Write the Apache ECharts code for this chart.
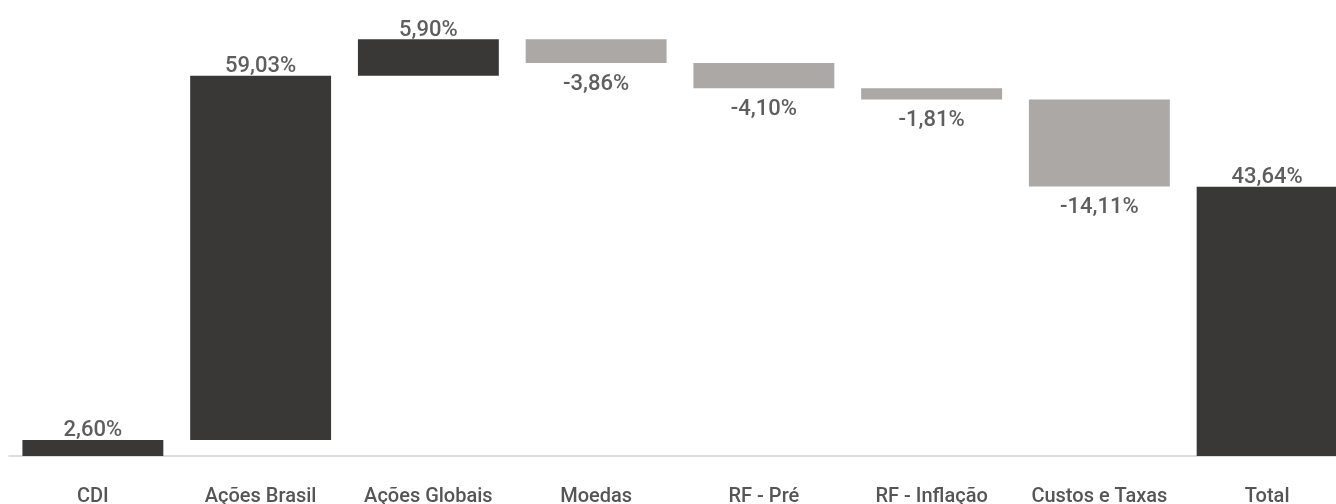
<!DOCTYPE html>
<html>
<head>
<meta charset="utf-8">
<script src="https://cdn.jsdelivr.net/npm/echarts@6/dist/echarts.min.js"></script>
<style>
html,body{margin:0;padding:0;background:#fff;}
#c{width:1336px;height:504px;}
</style>
</head>
<body>
<div id="c"></div>
<script>
const categories = ['CDI', 'Ações Brasil', 'Ações Globais', 'Moedas', 'RF - Pré', 'RF - Inflação', 'Custos e Taxas', 'Total'];
const values = [2.60, 59.03, 5.90, -3.86, -4.10, -1.81, -14.11, 43.64];
const isTotal = [false, false, false, false, false, false, false, true];

const FONT = 'Roboto, "Noto Sans", sans-serif';
const DARK = '#3a3836';
const LIGHT = '#aba8a6';

const baseData = [];
const barData = [];
let running = 0;
values.forEach((v, i) => {
  if (isTotal[i]) {
    baseData.push(0);
    barData.push({ value: v, raw: v });
    return;
  }
  if (v >= 0) {
    baseData.push(running);
    running += v;
  } else {
    running += v;
    baseData.push(running);
  }
  barData.push({ value: Math.abs(v), raw: v });
});

const fmt = v => v.toFixed(2).replace('.', ',') + '%';

barData.forEach(d => {
  const neg = d.raw < 0;
  d.itemStyle = { color: neg ? LIGHT : DARK };
  d.label = {
    show: true,
    position: neg ? 'bottom' : 'top',
    distance: neg ? 10 : -2,
    formatter: fmt(d.raw)
  };
});

const chart = echarts.init(document.getElementById('c'));
chart.setOption({
  animation: false,
  grid: { left: 9, top: 24, bottom: 48, right: -15, containLabel: false, outerBoundsMode: 'none' },
  xAxis: {
    type: 'category',
    data: categories,
    axisLine: { lineStyle: { color: '#d4d4d4', width: 1.5 } },
    axisTick: { show: false },
    axisLabel: { interval: 0, hideOverlap: false, color: '#555555', fontFamily: FONT, fontSize: 20, fontWeight: 500, margin: 31 }
  },
  yAxis: {
    type: 'value',
    min: 0,
    max: 70,
    show: false,
    splitLine: { show: false }
  },
  series: [
    {
      type: 'bar',
      stack: 'w',
      data: baseData,
      itemStyle: { color: 'transparent' },
      silent: true,
      barCategoryGap: '16%'
    },
    {
      type: 'bar',
      stack: 'w',
      data: barData,
      barCategoryGap: '16%',
      label: { color: '#5e5e5e', fontFamily: FONT, fontSize: 22, fontWeight: 500 }
    }
  ]
});
</script>
</body>
</html>
